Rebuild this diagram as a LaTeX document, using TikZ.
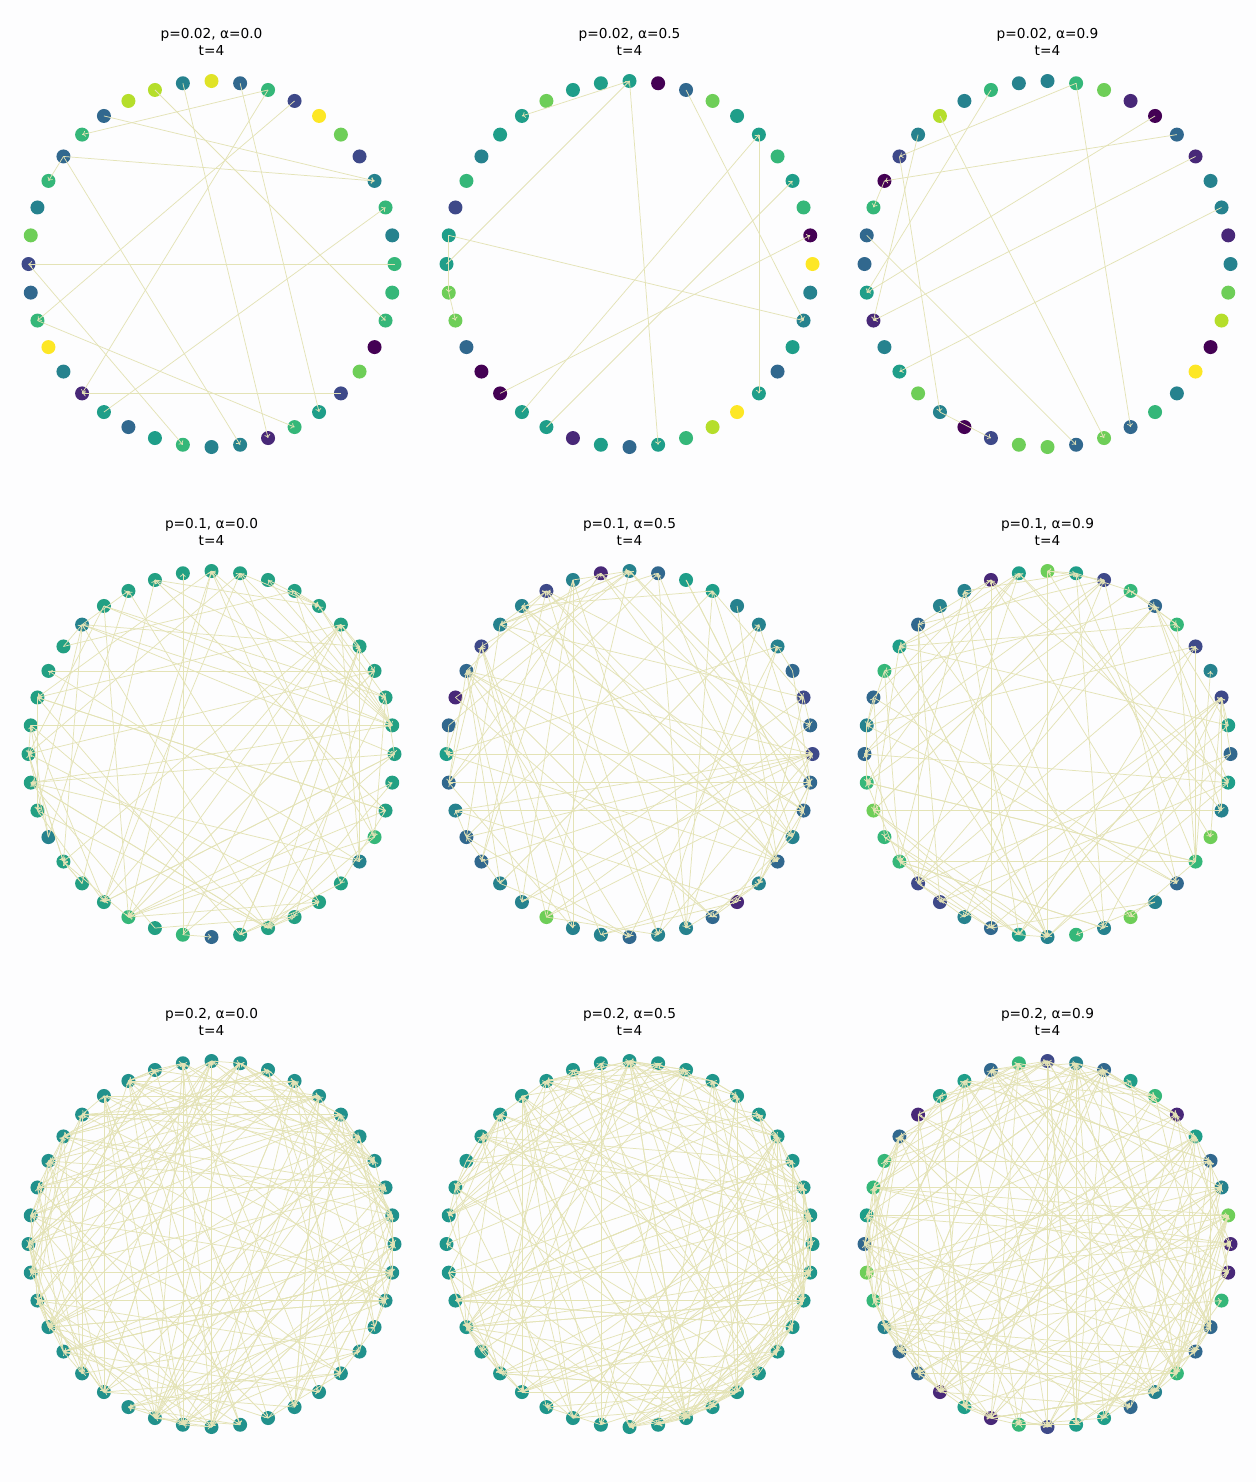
\documentclass[tikz,border=0pt]{standalone}
\usepackage{fontspec}
\setmainfont{DejaVu Sans}
\usetikzlibrary{arrows.meta}

% viridis steps
\definecolor{V0}{HTML}{440154}
\definecolor{V1}{HTML}{482878}
\definecolor{V2}{HTML}{3E4989}
\definecolor{V3}{HTML}{31688E}
\definecolor{V4}{HTML}{26828E}
\definecolor{V5}{HTML}{1F9E89}
\definecolor{V6}{HTML}{35B779}
\definecolor{V7}{HTML}{6ECE58}
\definecolor{V8}{HTML}{B5DE2B}
\definecolor{V9}{HTML}{FDE725}
\definecolor{Tmid}{HTML}{21918C}
\definecolor{Tgrn}{HTML}{1F968B}
\definecolor{Ggrn}{HTML}{23A083}
\definecolor{edgecol}{RGB}{228,227,182}
\definecolor{bgcol}{RGB}{253,253,254}

\tikzset{
  dot/.style={circle, inner sep=0pt, minimum size=0.28cm}, % node of the network
  edge/.style={draw=edgecol, line width=0.42pt, -{To[length=2pt,width=3.4pt]}}, % directed edge
  panel title/.style={align=center, inner sep=0pt, font=\fontsize{7.8}{9.6}\selectfont}
}

\begin{document}
\begin{tikzpicture}[x=0.02cm, y=-0.02cm]
    \fill[bgcol] (0,0) rectangle (1256,1482);
    \useasboundingbox (0,0) rectangle (1256,1482);

    % titles
    \node[panel title] (ta) at (211.5,42) {p=0.02, α=0.0\\t=4};
    \node[panel title] (tb) at (629.5,42) {p=0.02, α=0.5\\t=4};
    \node[panel title] (tc) at (1047.5,42) {p=0.02, α=0.9\\t=4};
    \node[panel title] (td) at (211.5,532) {p=0.1, α=0.0\\t=4};
    \node[panel title] (te) at (629.5,532) {p=0.1, α=0.5\\t=4};
    \node[panel title] (tf) at (1047.5,532) {p=0.1, α=0.9\\t=4};
    \node[panel title] (tg) at (211.5,1022) {p=0.2, α=0.0\\t=4};
    \node[panel title] (th) at (629.5,1022) {p=0.2, α=0.5\\t=4};
    \node[panel title] (ti) at (1047.5,1022) {p=0.2, α=0.9\\t=4};

    % p=0.02, alpha=0.0
    \begin{scope}[shift={(211.5,264)}]
    \foreach \i/\c in {0/V6,1/V4,2/V6,3/V4,4/V2,5/V7,6/V9,7/V2,8/V6,9/V3,
      10/V9!60!V8,11/V4,12/V8,13/V8,14/V3,15/V6,16/V3,17/V6,18/V4,19/V7,
      20/V2,21/V3,22/V6,23/V9,24/V4,25/V1,26/V5,27/V3,28/V5,29/V6,
      30/V4,31/V4,32/V1,33/V6,34/V5,35/V2,36/V7,37/V0,38/V6,39/V6} {
      \node[dot, fill=\c] (a\i) at ({-9*\i}:183) {};
    }
    \foreach \s/\t in {8/15,14/3,16/3,16/17,0/20,20/29,16/31,22/33,7/22,
      35/25,8/25,26/2,12/38,11/32,9/34} {
      \draw[edge] (a\s.center) -- (a\t.center);
    }
    \end{scope}

    % p=0.02, alpha=0.5
    \begin{scope}[shift={(629.5,264)}]
    \foreach \i/\c in {0/V9,1/V0,2/V6,3/V5,4/V6,5/V5,6/V5,7/V7,8/V3,9/V0,
      10/V5,11/V5,12/V5,13/V7,14/V5,15/V5,16/V4,17/V6,18/V2,19/V5,
      20/V5,21/V7,22/V7,23/V3,24/V0,25/V0,26/V5,27/V5,28/V1,29/V5,
      30/V3,31/V5,32/V6,33/V8,34/V9,35/V5,36/V3,37/V5,38/V4,39/V4} {
      \node[dot, fill=\c] (b\i) at ({-9*\i}:183) {};
    }
    \foreach \s/\t in {10/14,20/10,10/31,8/38,19/38,5/35,26/5,27/3,25/1,
      19/21,21/22} {
      \draw[edge] (b\s.center) -- (b\t.center);
    }
    \end{scope}

    % p=0.02, alpha=0.9
    \begin{scope}[shift={(1047.5,264)}]
    \foreach \i/\c in {0/V4,1/V1,2/V4,3/V4,4/V1,5/V3,6/V0,7/V1,8/V7,9/V6,
      10/V4,11/V4,12/V6,13/V4,14/V8,15/V4,16/V2,17/V0,18/V6,19/V3,
      20/V3,21/V5,22/V1,23/V4,24/V5,25/V7,26/V4,27/V0,28/V2,29/V7,
      30/V7,31/V3,32/V7,33/V3,34/V6,35/V4,36/V9,37/V0,38/V8,39/V7} {
      \node[dot, fill=\c] (c\i) at ({-9*\i}:183) {};
    }
    \foreach \s/\t in {9/16,9/33,12/21,14/32,16/26,15/22,5/17,6/21,4/22,
      2/24,19/31,26/28,17/18} {
      \draw[edge] (c\s.center) -- (c\t.center);
    }
    \end{scope}

    % p=0.1, alpha=0.0
    \begin{scope}[shift={(211.5,754)}]
    \foreach \i/\c in {0/Ggrn,1/Ggrn,2/Ggrn,3/Ggrn,4/Ggrn,5/Ggrn,6/Ggrn,7/Ggrn,8/Ggrn,9/Ggrn,
      10/Ggrn,11/Ggrn,12/Ggrn,13/Ggrn,14/Ggrn,15/V4,16/Ggrn,17/Ggrn,18/Ggrn,19/Ggrn,
      20/Ggrn,21/Ggrn,22/Ggrn,23/V4,24/Ggrn,25/Ggrn,26/Ggrn,27/V6,28/Ggrn,29/V6,
      30/V3,31/Ggrn,32/Ggrn,33/Ggrn,34/Ggrn,35/Ggrn,36/V4,37/V6,38/Ggrn,39/Ggrn} {
      \node[dot, fill=\c] (d\i) at ({-9*\i}:183) {};
    }
    \foreach \s/\t in {17/3,19/1,4/36} {
      \draw[edge] (d\s.center) -- (d\t.center);
    }
    \pgfmathsetseed{4101}
    \foreach \k in {1,...,95} {
      \pgfmathtruncatemacro{\s}{random(0,39)}
      \pgfmathtruncatemacro{\t}{mod(\s+random(1,39),40)}
      \draw[edge] (d\s.center) -- (d\t.center);
    }
    \end{scope}

    % p=0.1, alpha=0.5
    \begin{scope}[shift={(629.5,754)}]
    \foreach \i/\c in {0/V2,1/V3,2/V2,3/V3,4/V4,5/V4,6/V4,7/V5,8/V5,9/V3,
      10/V4,11/V1,12/V4,13/V2,14/V4,15/V4,16/V2,17/V3,18/V1,19/V3,
      20/V5,21/V3,22/V4,23/V3,24/V3,25/V4,26/V4,27/V7,28/V4,29/V4,
      30/V3,31/V4,32/V4,33/V3,34/V1,35/V4,36/V3,37/V4,38/V3,39/V3} {
      \node[dot, fill=\c] (e\i) at ({-9*\i}:183) {};
    }
    \foreach \s/\t in {21/39,12/28} {
      \draw[edge] (e\s.center) -- (e\t.center);
    }
    \pgfmathsetseed{4205}
    \foreach \k in {1,...,95} {
      \pgfmathtruncatemacro{\s}{random(0,39)}
      \pgfmathtruncatemacro{\t}{mod(\s+random(1,39),40)}
      \draw[edge] (e\s.center) -- (e\t.center);
    }
    \end{scope}

    % p=0.1, alpha=0.9
    \begin{scope}[shift={(1047.5,754)}]
    \foreach \i/\c in {0/V3,1/V5,2/V2,3/V4,4/V2,5/V6,6/V3,7/V6,8/V2,9/V5,
      10/V7,11/V5,12/V1,13/V4,14/V4,15/V3,16/V5,17/V6,18/V3,19/V4,
      20/V3,21/V6,22/V7,23/V6,24/V6,25/V2,26/V2,27/V4,28/V3,29/V5,
      30/V4,31/V6,32/V4,33/V7,34/V4,35/V3,36/V6,37/V7,38/V4,39/V5} {
      \node[dot, fill=\c] (f\i) at ({-9*\i}:183) {};
    }
    \foreach \s/\t in {10/30,12/28,22/38} {
      \draw[edge] (f\s.center) -- (f\t.center);
    }
    \pgfmathsetseed{4309}
    \foreach \k in {1,...,95} {
      \pgfmathtruncatemacro{\s}{random(0,39)}
      \pgfmathtruncatemacro{\t}{mod(\s+random(1,39),40)}
      \draw[edge] (f\s.center) -- (f\t.center);
    }
    \end{scope}

    % p=0.2, alpha=0.0
    \begin{scope}[shift={(211.5,1244)}]
    \foreach \i in {0,...,39} {
      \node[dot, fill=Tmid] (g\i) at ({-9*\i}:183) {};
    }
    \foreach \s/\t in {18/2,22/38} {
      \draw[edge] (g\s.center) -- (g\t.center);
    }
    \pgfmathsetseed{5107}
    \foreach \k in {1,...,195} {
      \pgfmathtruncatemacro{\s}{random(0,39)}
      \pgfmathtruncatemacro{\t}{mod(\s+random(1,39),40)}
      \draw[edge] (g\s.center) -- (g\t.center);
    }
    \end{scope}

    % p=0.2, alpha=0.5
    \begin{scope}[shift={(629.5,1244)}]
    \foreach \i in {0,...,39} {
      \node[dot, fill=Tgrn] (h\i) at ({-9*\i}:183) {};
    }
    \foreach \s/\t in {21/39} {
      \draw[edge] (h\s.center) -- (h\t.center);
    }
    \pgfmathsetseed{5213}
    \foreach \k in {1,...,195} {
      \pgfmathtruncatemacro{\s}{random(0,39)}
      \pgfmathtruncatemacro{\t}{mod(\s+random(1,39),40)}
      \draw[edge] (h\s.center) -- (h\t.center);
    }
    \end{scope}

    % p=0.2, alpha=0.9
    \begin{scope}[shift={(1047.5,1244)}]
    \foreach \i/\c in {0/V1,1/V7,2/V4,3/V3,4/V5,5/V1,6/V6,7/V5,8/V3,9/V4,
      10/V2,11/V6,12/V3,13/V5,14/V5,15/V1,16/V3,17/V6,18/V6,19/V5,
      20/V3,21/V7,22/V6,23/V4,24/V3,25/V3,26/V1,27/V5,28/V1,29/V6,
      30/V2,31/V5,32/V5,33/V3,34/V4,35/V6,36/V3,37/V3,38/V6,39/V1} {
      \node[dot, fill=\c] (i\i) at ({-9*\i}:183) {};
    }
    \foreach \s/\t in {17/3,18/2,19/1,9/31} {
      \draw[edge] (i\s.center) -- (i\t.center);
    }
    \pgfmathsetseed{5311}
    \foreach \k in {1,...,195} {
      \pgfmathtruncatemacro{\s}{random(0,39)}
      \pgfmathtruncatemacro{\t}{mod(\s+random(1,39),40)}
      \draw[edge] (i\s.center) -- (i\t.center);
    }
    \end{scope}
\end{tikzpicture}
\end{document}
